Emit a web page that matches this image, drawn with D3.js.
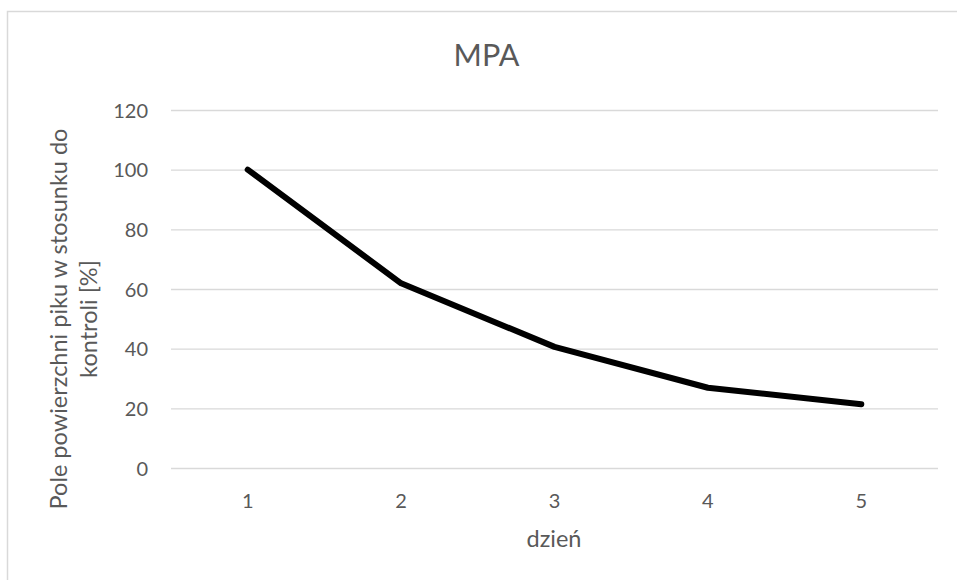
<!DOCTYPE html>
<html>
<head>
<meta charset="utf-8">
<script src="https://cdn.jsdelivr.net/npm/d3@7"></script>
<style>
  html, body { margin: 0; padding: 0; background: #fff; }
  svg { display: block; }
  text { font-family: Lato, "Open Sans", sans-serif; fill: #595959; }
</style>
</head>
<body>
<svg id="chart" width="957" height="580"></svg>
<script>
const categories = ["1", "2", "3", "4", "5"];
const values = [100, 61.9, 40.6, 26.9, 21.4];
const yTicks = [0, 20, 40, 60, 80, 100, 120];
const title = "MPA";
const xTitle = "dzień";
const yTitleLines = ["Pole powierzchni piku w stosunku do", "kontroli [%]"];

const svg = d3.select("#chart");
const W = 957, H = 580;
const plot = { left: 171, right: 938, top: 110, bottom: 468 };

// chart border
svg.append("rect")
  .attr("x", 7.5).attr("y", 11.5)
  .attr("width", W + 10).attr("height", H + 10)
  .attr("fill", "#fff").attr("stroke", "#d9d9d9").attr("stroke-width", 1.5);

const x = d3.scaleBand().domain(categories).range([plot.left, plot.right]);
const y = d3.scaleLinear().domain([0, 120]).range([plot.bottom, plot.top]);

// gridlines
const gy = svg.append("g")
  .attr("transform", `translate(${plot.left},0)`)
  .call(d3.axisLeft(y).tickValues(yTicks).tickSize(-(plot.right - plot.left)).tickFormat(""));
gy.select(".domain").remove();
gy.selectAll(".tick line").attr("stroke", "#d9d9d9").attr("stroke-width", 1.3);

// y tick labels
const yl = svg.append("g")
  .attr("transform", `translate(148,0)`)
  .call(d3.axisLeft(y).tickValues(yTicks).tickSize(0).tickPadding(0));
yl.select(".domain").remove();
yl.selectAll("text")
  .attr("font-size", "20px").attr("font-family", "Lato, 'Open Sans', sans-serif")
  .attr("fill", "#595959").attr("text-anchor", "end").attr("dy", "0.36em");

// x tick labels
const xl = svg.append("g")
  .attr("transform", `translate(0,${plot.bottom})`)
  .call(d3.axisBottom(x).tickSize(0).tickPadding(0));
xl.select(".domain").remove();
xl.selectAll("text")
  .attr("font-size", "20px").attr("font-family", "Lato, 'Open Sans', sans-serif")
  .attr("fill", "#595959").attr("y", 40).attr("dy", 0);

// line
const line = d3.line()
  .x((d, i) => x(categories[i]) + x.bandwidth() / 2)
  .y(d => y(d));
svg.append("path")
  .datum(values)
  .attr("d", line)
  .attr("fill", "none")
  .attr("stroke", "#000")
  .attr("stroke-width", 6)
  .attr("stroke-linecap", "round")
  .attr("stroke-linejoin", "round");

// title
svg.append("text")
  .attr("x", 486.5).attr("y", 66)
  .attr("text-anchor", "middle")
  .attr("font-size", "30.5px")
  .text(title);

// x axis title
svg.append("text")
  .attr("x", 554).attr("y", 547)
  .attr("text-anchor", "middle")
  .attr("font-size", "23.5px")
  .text(xTitle);

// y axis title
const yt = svg.append("text")
  .attr("transform", "translate(0,319) rotate(-90)")
  .attr("text-anchor", "middle")
  .attr("font-size", "23.5px");
yt.selectAll("tspan")
  .data(yTitleLines)
  .enter().append("tspan")
  .attr("x", 0)
  .attr("y", (d, i) => 67 + i * 30)
  .text(d => d);
</script>
</body>
</html>
